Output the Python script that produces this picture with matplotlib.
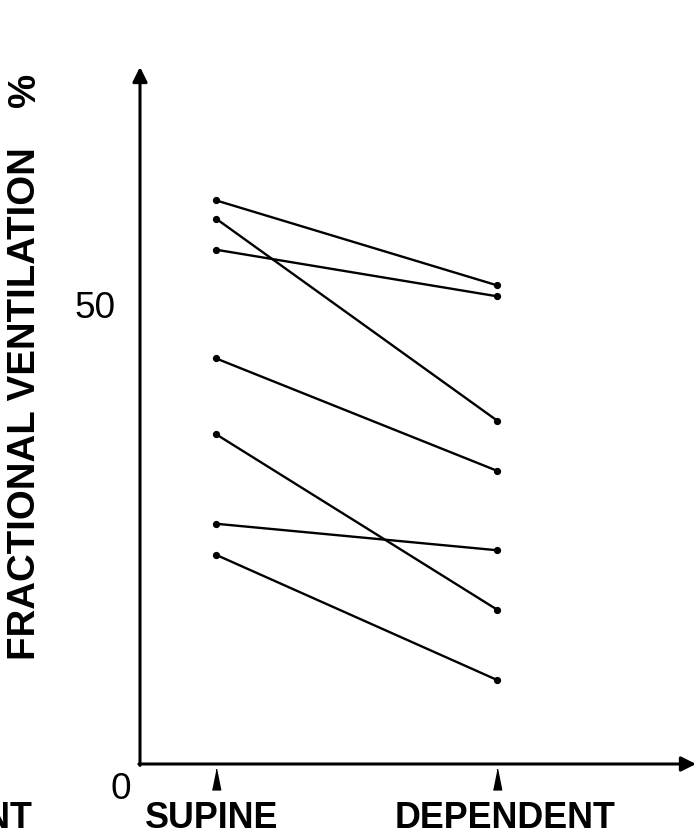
import matplotlib
matplotlib.use("Agg")
import matplotlib.pyplot as plt
from matplotlib.transforms import blended_transform_factory, offset_copy

# Fractional ventilation (%) of each subject in the two postures
positions = ["SUPINE", "DEPENDENT"]
supine = [61.7, 59.7, 56.3, 44.4, 36.1, 26.3, 22.9]
dependent = [52.4, 37.6, 51.2, 32.1, 16.9, 23.4, 9.2]
y_tick_values = [0, 50]
y_label = "FRACTIONAL VENTILATION"
y_unit = "%"

FONT = "Liberation Sans"
W, H = 696, 837
fig = plt.figure(figsize=(W / 100, H / 100), dpi=100)
ax = fig.add_axes([140 / W, 1 - 765 / H, (W - 140) / W, (765 - 68) / H])

ax.set_xlim(-0.2705, 1.708)
ax.set_ylim(0, 76.3)
for s in ax.spines.values():
    s.set_visible(False)
ax.set_xticks([])
ax.set_yticks([])

# paired lines with end dots
xs = list(range(len(positions)))
for a, b in zip(supine, dependent):
    ax.plot(xs, [a, b], color="black", lw=1.7, marker="o", ms=4.2,
            solid_capstyle="round", clip_on=False)

# axes drawn as arrows
arrow = dict(arrowstyle="-|>", lw=2.2, color="black", mutation_scale=22,
             shrinkA=0, shrinkB=0)
ax.annotate("", xy=(0, 1.0), xytext=(0, -0.002), xycoords="axes fraction",
            arrowprops=arrow)
ax.annotate("", xy=(1.0, 0), xytext=(-0.002, 0), xycoords="axes fraction",
            arrowprops=arrow)

# triangular position markers and names under the x axis
tri = [(-1, -2.5), (1, -2.5), (0, 2.5)]
bx = blended_transform_factory(ax.transData, ax.transAxes)
name_shift = [-4.5, 8]
for x, name, dx in zip(xs, positions, name_shift):
    tr = offset_copy(bx, fig=fig, x=0, y=-14.5, units="dots")
    ax.plot([x], [0], marker=tri, ms=15, color="black", transform=tr,
            clip_on=False, lw=0)
    tr_t = offset_copy(bx, fig=fig, x=dx, y=-63, units="dots")
    ax.text(x, 0, name, transform=tr_t, ha="center", va="baseline",
            fontsize=25.8, family=FONT, fontweight="bold")

# y value labels
by = blended_transform_factory(ax.transAxes, ax.transData)
for v in y_tick_values:
    if v == 0:
        tr = offset_copy(by, fig=fig, x=-19, y=-25, units="dots")
    else:
        tr = offset_copy(by, fig=fig, x=-45, y=0, units="dots")
    ax.text(0, v, str(v), transform=tr, ha="center", va="center",
            fontsize=26.6, family=FONT)

# y axis title
fig.text(25 / W, 1 - 404 / H, y_label, rotation=90, ha="center", va="center",
         fontsize=27.6, family=FONT, fontweight="bold")
fig.text(25 / W, 1 - 90 / H, y_unit, rotation=90, ha="center", va="center",
         fontsize=27.6, family=FONT, fontweight="bold")

# tail of the neighbouring panel's label, cut by the figure edge
fig.text(33 / W, 1 - 828 / H, positions[1], ha="right", va="baseline",
         fontsize=25.8, family=FONT, fontweight="bold")

fig.savefig("out.png", dpi=100, facecolor="white")
